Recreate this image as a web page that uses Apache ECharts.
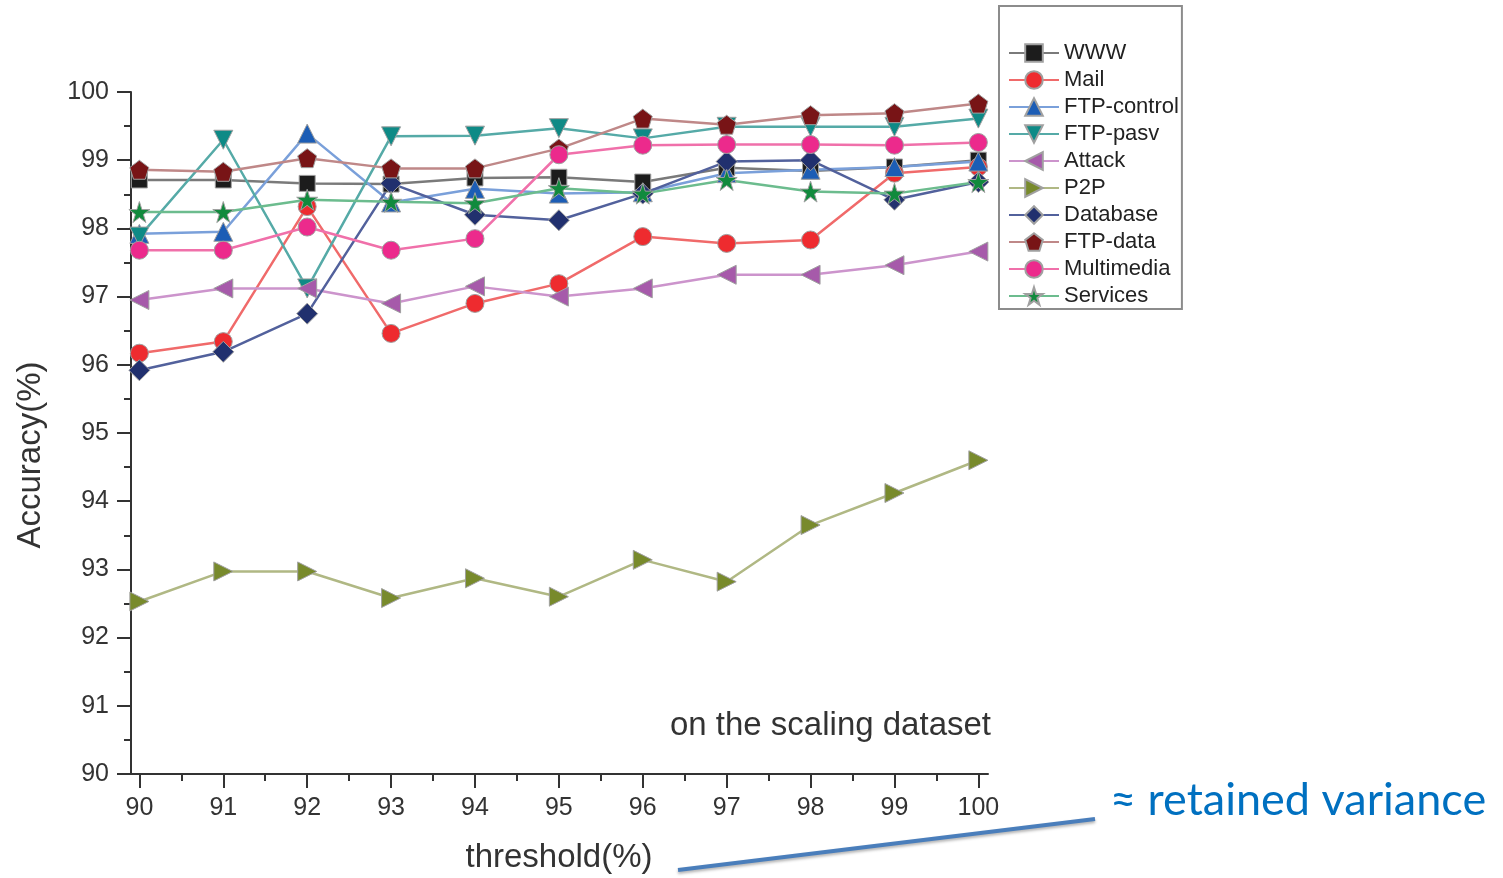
<!DOCTYPE html>
<html><head><meta charset="utf-8">
<script src="https://cdn.jsdelivr.net/npm/echarts@6/dist/echarts.min.js"></script>
<style>html,body{margin:0;padding:0;background:#fff}#c{width:1503px;height:878px}</style>
</head><body><div id="c"></div>
<script>
const thresholds = [90, 91, 92, 93, 94, 95, 96, 97, 98, 99, 100];
const xMajorTicks = [90, 91, 92, 93, 94, 95, 96, 97, 98, 99, 100];
const xMinorTicks = [90.5, 91.5, 92.5, 93.5, 94.5, 95.5, 96.5, 97.5, 98.5, 99.5];
const seriesNames = ['WWW', 'Mail', 'FTP-control', 'FTP-pasv', 'Attack', 'P2P', 'Database', 'FTP-data', 'Multimedia', 'Services'];
const WWW        = [98.71, 98.71, 98.66, 98.65, 98.74, 98.75, 98.68, 98.89, 98.84, 98.90, 99.00];
const Mail       = [96.17, 96.34, 98.32, 96.46, 96.90, 97.19, 97.88, 97.78, 97.83, 98.81, 98.90];
const FTPcontrol = [97.92, 97.95, 99.39, 98.38, 98.58, 98.51, 98.53, 98.81, 98.86, 98.90, 98.98];
const FTPpasv    = [97.88, 99.30, 97.12, 99.35, 99.36, 99.47, 99.32, 99.49, 99.49, 99.49, 99.61];
const Attack     = [96.95, 97.12, 97.12, 96.90, 97.15, 97.00, 97.12, 97.32, 97.32, 97.46, 97.66];
const P2P        = [92.53, 92.97, 92.97, 92.58, 92.87, 92.60, 93.14, 92.82, 93.65, 94.12, 94.60];
const Database   = [95.92, 96.19, 96.75, 98.66, 98.20, 98.12, 98.51, 98.98, 99.00, 98.42, 98.68];
const FTPdata    = [98.86, 98.83, 99.03, 98.88, 98.88, 99.17, 99.61, 99.52, 99.66, 99.69, 99.83];
const Multimedia = [97.68, 97.68, 98.02, 97.68, 97.85, 99.08, 99.22, 99.23, 99.23, 99.22, 99.26];
const Services   = [98.24, 98.24, 98.42, 98.39, 98.37, 98.59, 98.51, 98.71, 98.54, 98.51, 98.68];

const values = [WWW, Mail, FTPcontrol, FTPpasv, Attack, P2P, Database, FTPdata, Multimedia, Services];
const markerColors = ['#1c1c1c', '#ee2b2f', '#1c5db5', '#0e8a86', '#a65aaa', '#788a2c', '#21306e', '#781416', '#ec2a8c', '#118a3d'];
const lineColors   = ['#7a7a7a', '#f06a6a', '#7aa0da', '#55aaa7', '#cc94cc', '#b0b884', '#52619c', '#bf8888', '#f070aa', '#6cbc8e'];
const symbols = [
  'rect', 'circle', 'triangle',
  'path://M0,0 L2,0 L1,2 Z',
  'path://M2,0 L2,2 L0,1 Z',
  'path://M0,0 L2,1 L0,2 Z',
  'diamond',
  'path://M50,0 L97.6,34.5 L79.4,90.5 L20.6,90.5 L2.4,34.5 Z',
  'circle',
  'path://M50,0 L61.2,34.5 L97.6,34.5 L68.2,55.9 L79.4,90.5 L50,69.1 L20.6,90.5 L31.8,55.9 L2.4,34.5 L38.8,34.5 Z'
];
const symbolSizes = [16, 18, 19, 19, 19, 19, 21, 19, 18, 21];

const chart = echarts.init(document.getElementById('c'), null, {renderer: 'canvas'});
const FONT = 'Liberation Sans';
const axisCol = '#333';

const series = seriesNames.map((name, i) => ({
  name: name,
  type: 'line',
  xAxisIndex: 0,
  data: thresholds.map((t, j) => [t, values[i][j]]),
  symbol: symbols[i],
  symbolSize: symbolSizes[i],
  showAllSymbol: true,
  animation: false,
  lineStyle: {color: lineColors[i], width: 2.5},
  itemStyle: {color: markerColors[i], borderColor: '#a0a0a0', borderWidth: 1},
  emphasis: {disabled: true}
}));

chart.setOption({
  animation: false,
  backgroundColor: '#fff',
  grid: {left: 131, top: 92, width: 857, bottom: 104, containLabel: false},
  xAxis: [{
    type: 'value', min: 89.9, max: 100.115, position: 'bottom',
    axisLine: {show: true, lineStyle: {color: axisCol, width: 2}},
    axisTick: {show: true, customValues: xMajorTicks, length: 14, lineStyle: {color: axisCol, width: 2}},
    axisLabel: {show: true, customValues: xMajorTicks, margin: 22, fontFamily: FONT, fontSize: 25, color: '#333'},
    splitLine: {show: false}
  }, {
    type: 'value', min: 89.9, max: 100.115, position: 'bottom',
    axisLine: {show: false},
    axisTick: {show: true, customValues: xMinorTicks, length: 7, lineStyle: {color: axisCol, width: 2}},
    axisLabel: {show: false},
    splitLine: {show: false}
  }],
  yAxis: {
    type: 'value', min: 90, max: 100, interval: 1,
    axisLine: {show: true, lineStyle: {color: axisCol, width: 2}},
    axisTick: {show: true, length: 14, lineStyle: {color: axisCol, width: 2}},
    minorTick: {show: true, splitNumber: 2, length: 7, lineStyle: {color: axisCol, width: 2}},
    axisLabel: {margin: 22, fontFamily: FONT, fontSize: 25, color: '#333'},
    splitLine: {show: false}
  },
  legend: {
    orient: 'vertical', left: 999, top: 6,
    padding: [36, 3, 2, 9],
    itemWidth: 50, itemHeight: 22, itemGap: 5,
    borderColor: '#8c8c8c', borderWidth: 2,
    textStyle: {fontFamily: FONT, fontSize: 22, color: '#222', lineHeight: 22, padding: [0, 0, 0, 0]},
    data: seriesNames
  },
  graphic: [
    {type: 'text', x: 31, y: 455, rotation: Math.PI / 2,
     style: {text: 'Accuracy(%)', font: '33px "Liberation Sans"', fill: '#333', align: 'center', verticalAlign: 'middle'}},
    {type: 'text', x: 559, y: 858,
     style: {text: 'threshold(%)', font: '33px "Liberation Sans"', fill: '#333', align: 'center', verticalAlign: 'middle'}},
    {type: 'text', x: 991, y: 726,
     style: {text: 'on the scaling dataset', font: '33px "Liberation Sans"', fill: '#333', align: 'right', verticalAlign: 'middle'}},
    {type: 'line', shape: {x1: 678, y1: 870, x2: 1095, y2: 819},
     style: {stroke: '#4a7ebb', lineWidth: 4, shadowBlur: 3, shadowColor: 'rgba(0,0,0,0.3)', shadowOffsetY: 2}},
    {type: 'text', x: 1110, y: 800,
     style: {text: '≈ retained variance', font: '45px Lato', fill: '#0070c0', align: 'left', verticalAlign: 'middle'}}
  ],
  series: series
});
</script></body></html>
